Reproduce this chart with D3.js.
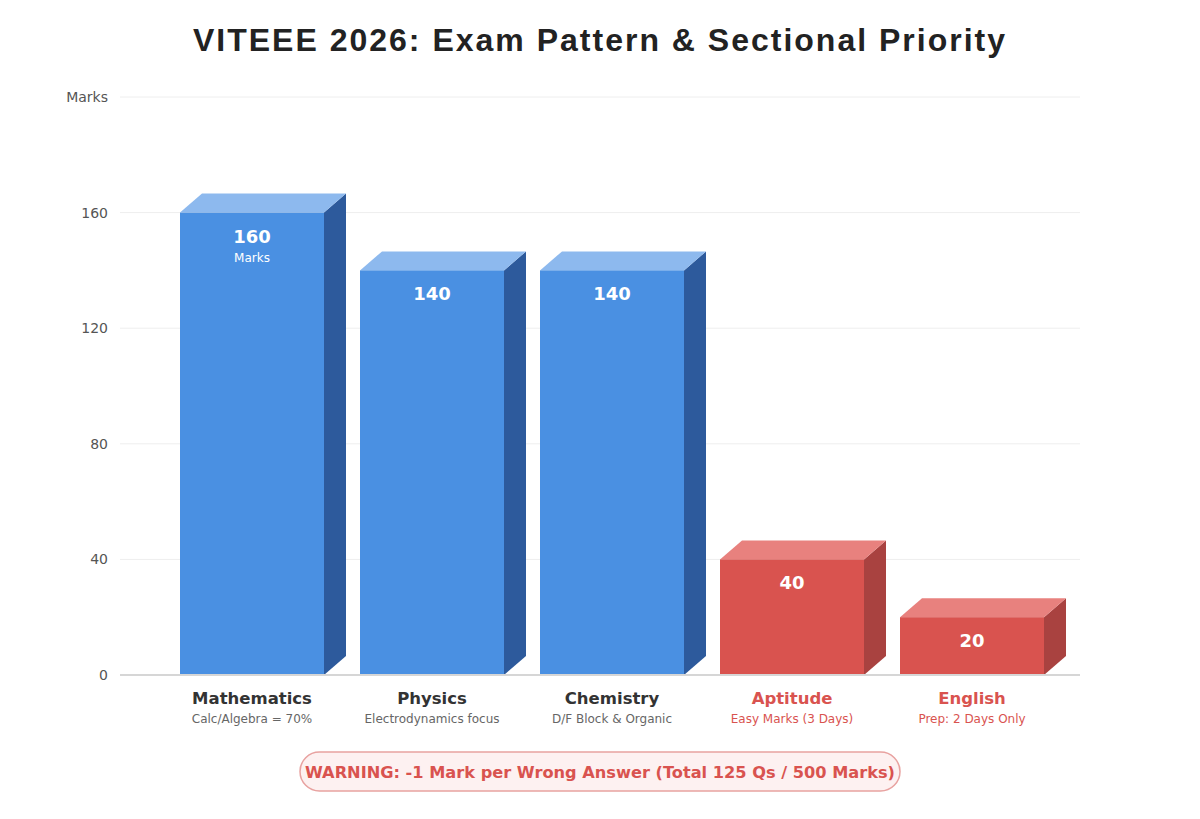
<!DOCTYPE html>
<html>
<head>
<meta charset="utf-8">
<script src="https://cdn.jsdelivr.net/npm/d3@7"></script>
<style>
  body { margin: 0; background: #fff; }
  svg { display: block; }
</style>
</head>
<body>
<svg id="chart"></svg>
<script>
// data
const subjects = ["Mathematics", "Physics", "Chemistry", "Aptitude", "English"];
const marks = [160, 140, 140, 40, 20];
const notes = ["Calc/Algebra = 70%", "Electrodynamics focus", "D/F Block & Organic", "Easy Marks (3 Days)", "Prep: 2 Days Only"];
const priority = ["high", "high", "high", "low", "low"];
const yTicks = [0, 40, 80, 120, 160, 200];

const width = 1200, height = 819;
const depthX = 22, depthY = 19;

const colors = {
    high: { front: "#4a90e2", top: "#8db9ee", side: "#2d5a9c", text: "#333333", sub: "#666666" },
    low:  { front: "#d9534f", top: "#e8817e", side: "#a94240", text: "#d9534f", sub: "#d9534f" }
};

const svg = d3.select("#chart")
    .attr("width", width)
    .attr("height", height)
    .attr("font-family", "'DejaVu Sans', sans-serif");

const x = d3.scaleBand()
    .domain(subjects)
    .range([162, 1062])
    .paddingInner(0.2)
    .paddingOuter(0.1);

const y = d3.scaleLinear()
    .domain([0, 200])
    .range([675, 97]);

// title
svg.append("text")
    .attr("x", width / 2)
    .attr("y", 51)
    .attr("text-anchor", "middle")
    .attr("font-family", "'Liberation Sans', Arial, sans-serif")
    .attr("font-weight", "bold")
    .attr("font-size", 32)
    .attr("letter-spacing", 2)
    .attr("fill", "#222")
    .text("VITEEE 2026: Exam Pattern & Sectional Priority");

// grid
svg.append("g")
    .selectAll("line")
    .data(yTicks.filter(d => d > 0))
    .join("line")
    .attr("x1", 120).attr("x2", 1080)
    .attr("y1", d => y(d)).attr("y2", d => y(d))
    .attr("stroke", "#eeeeee")
    .attr("stroke-width", 1);

const yAxis = d3.axisLeft(y)
    .tickValues(yTicks)
    .tickSize(0)
    .tickPadding(0)
    .tickFormat(d => d === 200 ? "Marks" : d);

svg.append("g")
    .attr("transform", "translate(108,0)")
    .call(yAxis)
    .call(g => g.select(".domain").remove())
    .call(g => g.selectAll("text")
        .attr("font-family", "'DejaVu Sans', sans-serif")
        .attr("font-size", 14)
        .attr("fill", "#555"));

// bars (front, top, side)
const bars = svg.append("g")
    .selectAll("g")
    .data(subjects)
    .join("g");

bars.append("path")
    .attr("d", (d, i) => {
        const x0 = x(d) + x.bandwidth(), yt = y(marks[i]), yb = y(0);
        return `M${x0},${yt} L${x0 + depthX},${yt - depthY} L${x0 + depthX},${yb - depthY} L${x0},${yb} Z`;
    })
    .attr("fill", (d, i) => colors[priority[i]].side);

bars.append("path")
    .attr("d", (d, i) => {
        const x0 = x(d), x1 = x0 + x.bandwidth(), yt = y(marks[i]);
        return `M${x0},${yt} L${x0 + depthX},${yt - depthY} L${x1 + depthX},${yt - depthY} L${x1},${yt} Z`;
    })
    .attr("fill", (d, i) => colors[priority[i]].top);

bars.append("rect")
    .attr("x", d => x(d))
    .attr("y", (d, i) => y(marks[i]))
    .attr("width", x.bandwidth())
    .attr("height", (d, i) => y(0) - y(marks[i]))
    .attr("fill", (d, i) => colors[priority[i]].front);

bars.append("text")
    .attr("x", d => x(d) + x.bandwidth() / 2)
    .attr("y", (d, i) => y(marks[i]) + 30)
    .attr("text-anchor", "middle")
    .attr("font-weight", "bold")
    .attr("font-size", 18)
    .attr("fill", "#fff")
    .text((d, i) => marks[i]);

bars.filter((d, i) => i === 0)
    .append("text")
    .attr("x", d => x(d) + x.bandwidth() / 2)
    .attr("y", y(marks[0]) + 49)
    .attr("text-anchor", "middle")
    .attr("font-size", 12)
    .attr("fill", "#fff")
    .text("Marks");

// baseline
svg.append("line")
    .attr("x1", 120).attr("x2", 1080)
    .attr("y1", y(0)).attr("y2", y(0))
    .attr("stroke", "#d6d6d6")
    .attr("stroke-width", 2);

// category labels
const labels = svg.append("g")
    .selectAll("g")
    .data(subjects)
    .join("g")
    .attr("transform", d => `translate(${x(d) + x.bandwidth() / 2},0)`);

labels.append("text")
    .attr("y", 704)
    .attr("text-anchor", "middle")
    .attr("font-weight", "bold")
    .attr("font-size", 16.5)
    .attr("fill", (d, i) => colors[priority[i]].text)
    .text(d => d);

labels.append("text")
    .attr("y", 723)
    .attr("text-anchor", "middle")
    .attr("font-size", 12)
    .attr("fill", (d, i) => colors[priority[i]].sub)
    .text((d, i) => notes[i]);

// warning pill
svg.append("rect")
    .attr("x", 300).attr("y", 752)
    .attr("width", 600).attr("height", 39)
    .attr("rx", 19.5)
    .attr("fill", "#fdf1f1")
    .attr("stroke", "#e8a2a0")
    .attr("stroke-width", 1.5);

svg.append("text")
    .attr("x", 600).attr("y", 778)
    .attr("text-anchor", "middle")
    .attr("font-weight", "bold")
    .attr("font-size", 16.2)
    .attr("fill", "#d9534f")
    .text("WARNING: -1 Mark per Wrong Answer (Total 125 Qs / 500 Marks)");
</script>
</body>
</html>
